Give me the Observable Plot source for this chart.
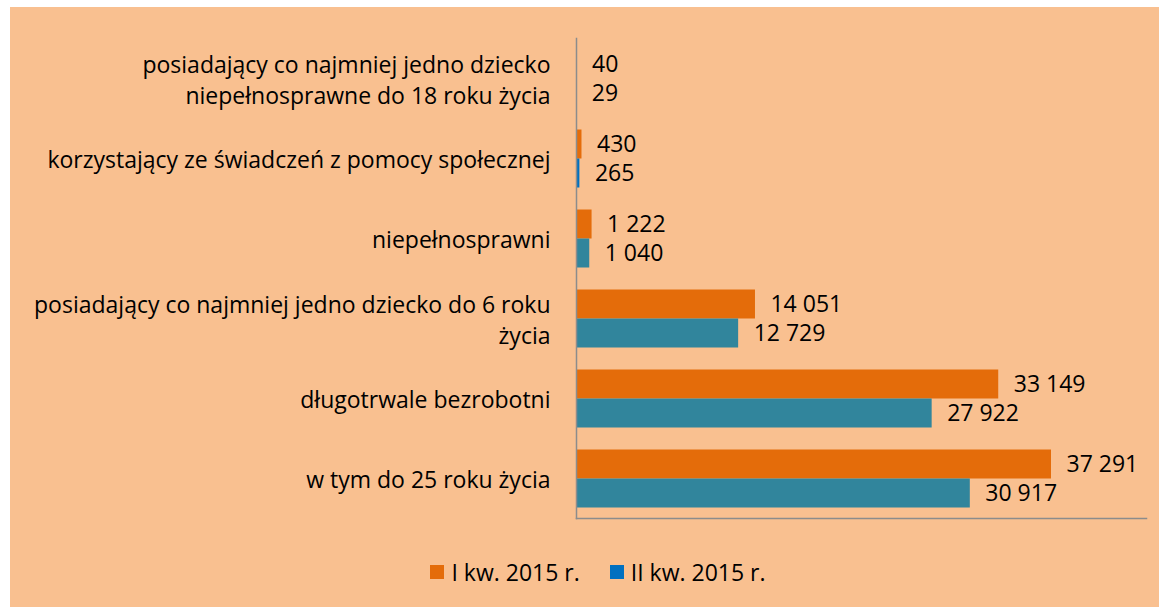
<!DOCTYPE html>
<html><head><meta charset="utf-8">
<script src="https://cdn.jsdelivr.net/npm/d3@7"></script>
<script src="https://cdn.jsdelivr.net/npm/@observablehq/plot@0.6"></script>
<style>
body{margin:0;background:#fff;}
#box{position:absolute;left:10px;top:7px;width:1149px;height:600px;background:#F9C090;font-family:"Open Sans",Lato,sans-serif;color:#000;}
#legend{display:flex;justify-content:center;align-items:center;height:40px;font-size:23px;margin-left:27px;}
#legend .item{display:flex;align-items:center;margin:0 15px;}
#legend .sw{width:14px;height:14px;margin-right:7px;}
</style></head><body>
<div id="box"><div id="chart"></div><div id="legend"></div></div>
<script>
const categories = [
  "posiadający co najmniej jedno dziecko\nniepełnosprawne do 18 roku życia",
  "korzystający ze świadczeń z pomocy społecznej",
  "niepełnosprawni",
  "posiadający co najmniej jedno dziecko do 6 roku\nżycia",
  "długotrwale bezrobotni",
  "w tym do 25 roku życia"
];
const series = ["I kw. 2015 r.", "II kw. 2015 r."];
const q1 = [40, 430, 1222, 14051, 33149, 37291];
const q2 = [29, 265, 1040, 12729, 27922, 30917];

// styles
const colorQ1 = "#E46C0A";
const colorQ2 = "#31859C";
const colorQ2Small = "#0070C0";
const blueCats = new Set([categories[0], categories[1]]);

const rows = [];
categories.forEach((c, i) => {
  rows.push({cat: c, series: series[0], value: q1[i]});
  rows.push({cat: c, series: series[1], value: q2[i]});
});
const fill = d => d.series === series[0] ? colorQ1 : (blueCats.has(d.cat) ? colorQ2Small : colorQ2);
const fmt = v => d3.format(",")(v).replace(/,/g, " ");

const chart = Plot.plot({
  width: 1149, height: 545,
  marginLeft: 566, marginRight: 13, marginTop: 30.5, marginBottom: 34,
  style: {background: "transparent", fontFamily: "'Open Sans', Lato, sans-serif", fontSize: "23px", color: "#000"},
  x: {domain: [0, 44750], axis: null},
  y: {domain: series, axis: null, paddingInner: 0, paddingOuter: 0.337},
  fy: {domain: categories, axis: null, padding: 0},
  color: {type: "identity"},
  marks: [
    Plot.barX(rows, {fy: "cat", y: "series", x: "value", fill: fill, ariaLabel: "bars"}),
    Plot.text(rows, {fy: "cat", y: "series", x: "value", text: d => fmt(d.value), textAnchor: "start", dx: 15, fill: "#000", fontSize: 23}),
    Plot.text(categories, {fy: d => d, text: d => d, frameAnchor: "left", textAnchor: "end", dx: -26, lineHeight: 1.35, fill: "#000", fontSize: 23, ariaLabel: "cat-labels"}),
    Plot.frame({anchor: "left", facet: "super", stroke: "#8c8c8c", strokeWidth: 1.5}),
    Plot.frame({anchor: "bottom", facet: "super", stroke: "#8c8c8c", strokeWidth: 1.5})
  ]
});
document.getElementById("chart").appendChild(chart);

// center wrapped lines of category labels within their block
chart.querySelectorAll('g[aria-label="cat-labels"] text').forEach(t => {
  const w = t.getBBox().width;
  t.setAttribute("text-anchor", "middle");
  const tr = t.getAttribute("transform") || "";
  t.setAttribute("transform", tr + ` translate(${-w / 2},0)`);
});
chart.querySelectorAll('g[aria-label="bars"]').forEach(g => {
  g.style.filter = "drop-shadow(2px 3px 2px rgba(0,0,0,0.28))";
});

// legend
const legend = document.getElementById("legend");
[[series[0], colorQ1], [series[1], colorQ2Small]].forEach(([s, c]) => {
  const it = document.createElement("div");
  it.className = "item";
  it.innerHTML = `<span class="sw" style="background:${c}"></span><span>${s}</span>`;
  legend.appendChild(it);
});
</script>
</body></html>
